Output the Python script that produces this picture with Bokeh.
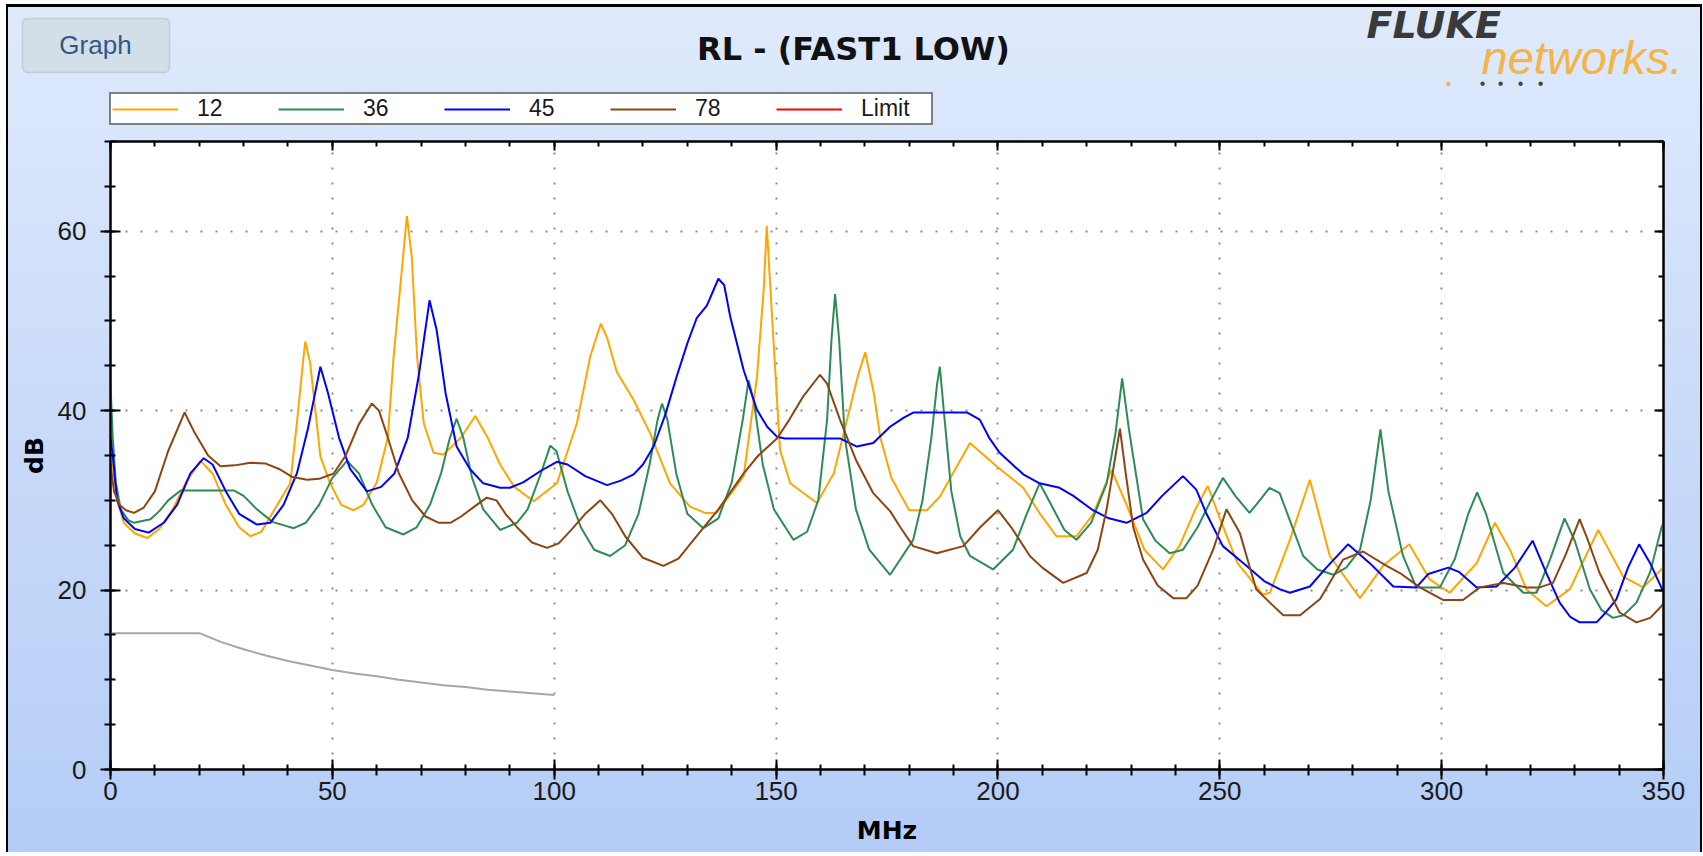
from bokeh.plotting import figure
from bokeh.models import (Range1d, LinearAxis, FixedTicker, Legend, LegendItem,
                          Label, BoxAnnotation)
from bokeh.embed import file_html
from bokeh.resources import INLINE

# ---------------- data ----------------
title_text = "RL - (FAST1 LOW)"
x_label = "MHz"
y_label = "dB"
x_ticks = [0, 50, 100, 150, 200, 250, 300, 350]
x_minor = list(range(0, 351, 10))
y_ticks = [0, 20, 40, 60]
y_minor = list(range(0, 71, 5))
series_names = ["12", "36", "45", "78", "Limit"]

f12 = [0, 1.5, 3, 5.5, 8.3, 11, 14, 17, 20.3, 23, 26, 29, 31.5, 34, 37, 40.5, 42, 43.5, 43.9, 45,
       47.3, 49.5, 52, 54.8, 57, 60, 62.5, 63.8, 65.3, 66.8, 67.9, 69.1, 70.6, 72.8, 75, 79, 82.2,
       85, 87.8, 91, 95.4, 100.6, 105.1, 108.1, 110.5, 112, 114.1, 117.9, 121.6, 126.1, 130.6,
       134, 136.6, 142.7, 145.7, 147.2, 147.9, 149.4, 150.9, 153.2, 159.2, 163, 166, 168.5, 170.1,
       172, 173.5, 176, 180, 184, 186.9, 193.7, 199.7, 205.7, 209.5, 213.2, 217.7, 221.5, 225.6,
       229, 233, 237.2, 241, 244.5, 247.3, 250, 254, 259.7, 261.3, 265.8, 270.3, 274.8, 281.6,
       286.8, 292.7, 297.3, 301.8, 307.9, 312, 315.4, 319.1, 323.6, 328.9, 335.3, 340.9, 345.4,
       349.5, 350]
rl12 = [36, 30, 27.5, 26.3, 25.8, 26.8, 29, 32, 34.4, 33, 29.5, 27, 26.0, 26.5, 29, 31.9, 38.6, 46,
        47.7, 45.3, 34.9, 31.9, 29.5, 28.9, 29.5, 32, 37, 46, 53.8, 61.7, 57.1, 46, 38.6, 35.3, 35.1,
        37, 39.4, 37, 34, 31.5, 29.9, 31.9, 38.6, 46, 49.7, 48, 44.3, 41.2, 37.5, 31.9, 29.3,
        28.6, 28.6, 32.7, 43.8, 53.4, 60.6, 47.9, 35.6, 31.9, 29.7, 33, 39, 44, 46.5,
        42, 37, 32.5, 28.9, 28.9, 30.4, 36.4, 33.8, 31.4, 28.5, 26.0, 26.0, 28.5, 33.4,
        29.5, 24.5, 22.3, 25, 29, 31.6, 28, 23, 19.5, 19.7, 25.6, 32.3, 23.8, 19.1,
        22.7, 25.1, 21.2, 19.7, 23.0, 27.5, 24.5, 20.1, 18.2, 20.1, 26.7, 21.5, 20.3,
        22.3, 22.6]

f36 = [0, 0.5, 1.2, 2.3, 4, 5.3, 9, 11, 13, 15.8, 27.8, 30, 33, 36.5, 41.3, 44, 47, 50, 53.3, 56, 59,
       62, 66, 69, 72, 74.5, 76.5, 78, 79.5, 81.5, 84, 87.8, 91.6, 94, 97, 99.1, 100.5, 103, 106, 109,
       112.6, 116, 119, 121.5, 123.3, 124.3, 125.5, 127.5, 130, 133.6, 137, 140, 142.5, 143.8, 145,
       147, 149.5, 153.9, 157, 159.5, 161.5, 162.5, 163.3, 164.2, 165.5, 168, 171, 175.7, 180.9, 183,
       185, 186.3, 186.9, 187.8, 189.5, 191.5, 193.7, 198.9, 203.4, 206.5, 209.4, 212, 215, 217.7,
       221, 224.5, 226.5, 228, 229.5, 232.7, 235.5, 238.7, 241.7, 245, 248, 250.7, 253.5, 256.7,
       259, 261.2, 263.5, 266, 268.8, 272, 275.6, 278.5, 281.6, 284, 286.2, 288, 291.3, 294.3,
       299.6, 303, 306, 308, 310, 313.9, 318.4, 321.4, 324.5, 327.7, 330, 333.4, 336, 338.6, 341,
       343.9, 347, 349.5, 350]
rl36 = [43, 37, 32, 29, 27.8, 27.5, 27.9, 28.8, 30, 31.1, 31.1, 30.5, 29, 27.6, 26.9, 27.5, 29.5, 32.5,
        34.4, 33, 29.5, 27, 26.2, 27, 29.5, 33, 37, 39.1, 37, 32.5, 29, 26.7, 27.5, 29, 33, 36.1, 35.5,
        31, 27, 24.5, 23.8, 25, 28.5, 34, 39, 40.8, 39, 33, 28.5, 26.9, 28, 32, 39, 43.4, 41, 34, 29,
        25.6, 26.5, 30, 39, 48, 53.0, 48, 37, 29, 24.5, 21.7, 25.6, 30, 37, 43, 44.9, 40, 31, 26, 23.8,
        22.3, 24.5, 28.5, 31.9, 29.5, 26.7, 25.6, 27.5, 31.9, 37.5, 43.6, 38, 27.9, 25.5, 24.1, 24.5,
        27, 30, 32.5, 30.5, 28.6, 30, 31.4, 30.8, 27.5, 23.8, 22.3, 21.7, 22.5, 24.5, 30, 37.9, 31,
        23.8, 20.3, 20.3, 23.5, 28.5, 30.9, 28.5, 21.9, 19.7, 19.7, 23.5, 28, 25.5, 20.1, 17.8, 16.9,
        17.2, 18.6, 22, 26.9, 27.5]

f45 = [0, 0.5, 1.5, 3, 5.5, 8.6, 12, 15, 18, 21, 23, 26, 29, 33, 36, 39, 42, 44.5, 47.3, 49, 51.5, 54,
       57.8, 61, 64, 67, 69.5, 71.9, 73.5, 75.5, 78, 81, 84, 87.8, 90, 93, 97, 100.6, 103, 107, 111.9,
       115, 117.9, 120, 122.4, 125, 127.6, 130, 132.1, 134.4, 137, 138.3, 139.7, 142.7, 145.7, 148,
       150.2, 152, 164.4, 168.2, 171.9, 175.7, 178.7, 181, 193, 195.9, 198, 200.4, 205.7, 209.4,
       213.9, 217, 221.4, 225, 229, 233.5, 237, 241.7, 244.7, 247, 250.7, 256, 260, 263.5, 265.8,
       270.3, 274, 278.9, 283.8, 289.1, 294.3, 297, 301.5, 304, 307.9, 312.4, 316.5, 320.5, 323.5,
       326.6, 329, 331.1, 334.9, 337, 339.4, 342, 344.5, 347, 349.5, 350]
rl45 = [37, 35, 30, 28, 26.8, 26.4, 27.5, 29.5, 33, 34.7, 34, 31, 28.5, 27.3, 27.5, 29.5, 33, 38, 44.9,
        42, 37, 33.5, 31.0, 31.5, 33, 37, 44, 52.3, 49, 42, 36, 33.5, 31.9, 31.4, 31.4, 32, 33.3, 34.3,
        34, 32.7, 31.7, 32.2, 32.9, 34, 36, 39.5, 43.8, 47.5, 50.3, 51.7, 54.7, 54, 50.4, 44.5, 40.1,
        38.2, 37.1, 36.9, 36.9, 36.0, 36.4, 38.2, 39.2, 39.8, 39.8, 39, 37, 35.3, 32.9, 31.9, 31.4,
        30.5, 28.9, 28, 27.5, 28.6, 30.5, 32.7, 31.2, 28.5, 24.9, 22.7, 21, 20.1, 19.7, 20.4, 22.5,
        25.1, 23, 20.4, 20.3, 21.8, 22.5, 22, 20.3, 20.4, 22.5, 25.5, 22, 18.6, 17, 16.4, 16.4, 17.5,
        19, 22.5, 25.1, 23, 20.3, 19.8]

f78 = [0, 0.8, 2, 3.5, 5.3, 7.5, 10, 13, 16.7, 19, 22, 24.8, 28, 31.5, 35, 38, 41, 44.3, 47, 50.3, 53,
       56, 58.9, 60.5, 62.5, 65, 68, 71, 74, 76.6, 79, 82, 84.8, 87, 89, 92, 95, 98.4, 101, 104, 107,
       110.4, 113, 116, 120, 124.6, 128, 132.1, 137, 142.7, 146, 150.2, 153, 156, 159.9, 161.5, 164.4,
       168, 171.9, 175.7, 178, 180.9, 186.2, 192.2, 196, 200, 203, 207.2, 210, 214.7, 220, 222.5,
       224.5, 226.5, 227.5, 228.8, 230.5, 232.7, 236, 239.5, 242.5, 245, 248.5, 251.5, 254.5, 256.5,
       258.2, 261.3, 264.3, 268.1, 272.6, 275, 277.8, 282.3, 287.6, 290.6, 295.1, 300.3, 304.8,
       308.6, 313.9, 319.1, 322.1, 325.1, 328, 331.1, 333, 335.6, 340.1, 343.9, 347, 349.5, 350]
rl78 = [34, 31, 29.5, 28.9, 28.6, 29.2, 31, 35.5, 39.8, 37.5, 35, 33.8, 33.9, 34.2, 34.1, 33.5, 32.6,
        32.3, 32.4, 33.0, 35, 38.5, 40.8, 40, 37, 33, 30, 28.2, 27.5, 27.5, 28.2, 29.3, 30.3, 30, 28.5,
        26.8, 25.3, 24.7, 25.2, 26.8, 28.5, 30.0, 28.5, 26, 23.6, 22.7, 23.5, 26, 29, 33, 35, 36.9, 39,
        41.5, 44.0, 43, 39, 34.5, 30.8, 28.8, 27, 24.9, 24.1, 24.9, 27, 28.9, 27, 23.8, 22.5, 20.8,
        21.9, 24.5, 29, 35, 38.0, 33, 27, 23.4, 20.5, 19.1, 19.1, 20.5, 24.5, 29, 26.4, 23, 20.1, 18.6,
        17.2, 17.2, 19.0, 21, 23.4, 24.3, 22.7, 21.9, 20.3, 18.9, 18.9, 20.3, 20.8, 20.3, 20.3, 20.8,
        24, 27.9, 25.5, 21.9, 17.5, 16.4, 16.9, 18.2, 18.5]

f_limit = [0, 20, 25, 30, 35, 40, 45, 50, 55, 60, 65, 70, 75, 80, 85, 90, 95, 100]
rl_limit = [15.2, 15.2, 14.2, 13.4, 12.7, 12.1, 11.6, 11.1, 10.7, 10.4, 10.0, 9.7, 9.4, 9.2, 8.9,
            8.7, 8.5, 8.3]

series_colors = ["#FFA500", "#2E8B57", "#0000FF", "#8B4513", "#FF0000"]

# ---------------- layout constants ----------------
FONT = "Liberation Sans"
BOLD_FONT = "DejaVu Sans"
W = 1702
HH = 133            # header height
H2 = 719            # chart height
FL, FR, FT, FB = 110, 39, 8, 83   # frame: x 110..1663, y 141..769 (page pixels)
NAN = float("nan")

# ---------------- header (title, button, logo, legend) ----------------
hdr = figure(width=W, height=HH, x_range=Range1d(0, W), y_range=Range1d(HH, 0),
             x_axis_type=None, y_axis_type=None, output_backend="svg", toolbar_location=None,
             min_border=0, outline_line_color=None, background_fill_alpha=0,
             border_fill_alpha=0,
             styles={"background": "linear-gradient(180deg, #dfeafc 0%, #d8e5fb 100%)",
                     "box-shadow": "inset 6px 4px 0 0 #ffffff, inset 8px 7px 0 0 #000000, "
                                   "inset -2px 0 0 0 #000000",
                     "vertical-align": "top"})
hdr.xgrid.visible = False
hdr.ygrid.visible = False

hdr.add_layout(BoxAnnotation(left=22, right=169, top=18, bottom=72, fill_color="#d3dfe8",
                             fill_alpha=1, line_color="#8597a9", line_width=1.5,
                             border_radius=5))
hdr.add_layout(Label(x=95, y=44, text="Graph", text_font=FONT, text_font_size="26px",
                     text_color="#34568c", text_align="center", text_baseline="middle"))
hdr.add_layout(Label(x=853, y=48, text=title_text, text_font=BOLD_FONT, text_font_size="32px",
                     text_font_style="bold", text_color="#111111", text_align="center",
                     text_baseline="middle"))
hdr.add_layout(Label(x=1366, y=24, text="FLUKE", text_font="DejaVu Sans", text_font_size="38px",
                     text_font_style="bold italic", text_color="#3a3a3a", text_align="left",
                     text_baseline="middle"))
hdr.add_layout(Label(x=1481, y=57, text="networks.", text_font=FONT, text_font_size="47px",
                     text_font_style="italic", text_color="#f5b445", text_align="left",
                     text_baseline="middle"))
for dx, col in ((1448, "#f5b445"), (1482, "#444444"), (1500, "#444444"), (1520, "#444444"),
                (1540, "#444444")):
    hdr.add_layout(Label(x=dx, y=83, text="\u2022", text_font=FONT, text_font_size="16px",
                         text_color=col, text_align="center", text_baseline="middle"))

keys = [hdr.line([NAN, NAN], [NAN, NAN], line_color=c, line_width=2) for c in series_colors]
legend = Legend(items=[LegendItem(label=n, renderers=[k]) for n, k in zip(series_names, keys)],
                orientation="horizontal", location=(109, 8), glyph_width=66, glyph_height=20,
                label_standoff=19, label_width=69, spacing=12, padding=1, margin=0,
                border_line_color="black", border_line_width=2, background_fill_color="white",
                background_fill_alpha=1, label_text_font=FONT, label_text_font_size="23px",
                label_text_color="#1a1a1a", label_text_baseline="middle")
hdr.add_layout(legend)

# ---------------- chart ----------------
p = figure(width=W, height=H2, x_range=Range1d(0, 350), y_range=Range1d(0, 70),
           output_backend="svg", toolbar_location=None,
           min_border_left=FL, min_border_right=FR, min_border_top=FT, min_border_bottom=FB,
           background_fill_color="white", border_fill_alpha=0,
           outline_line_color="black", outline_line_width=2,
           styles={"background": "linear-gradient(180deg, #d8e5fb 0%, #b4ccf6 100%)",
                   "box-shadow": "inset 6px 0 0 0 #ffffff, inset 8px 0 0 0 #000000, "
                                 "inset -2px 0 0 0 #000000",
                   "vertical-align": "top"})

for ax in (p.xaxis[0], p.yaxis[0]):
    ax.axis_line_width = 2
    ax.major_tick_line_width = 2
    ax.minor_tick_line_width = 2
    ax.major_tick_out = 10
    ax.major_tick_in = 10
    ax.minor_tick_out = 6
    ax.minor_tick_in = 5
    ax.major_label_text_font = FONT
    ax.major_label_text_font_size = "26px"
    ax.major_label_text_color = "#1a1a1a"
    ax.axis_label_text_font = BOLD_FONT
    ax.axis_label_text_font_size = "25px"
    ax.axis_label_text_font_style = "bold"
    ax.axis_label_text_color = "black"
p.xaxis[0].ticker = FixedTicker(ticks=x_ticks, minor_ticks=x_minor)
p.yaxis[0].ticker = FixedTicker(ticks=y_ticks, minor_ticks=y_minor)
p.xaxis[0].axis_label = x_label
p.yaxis[0].axis_label = y_label
p.xaxis[0].major_label_standoff = 2
p.xaxis[0].axis_label_standoff = 13
p.yaxis[0].major_label_standoff = 14
p.yaxis[0].axis_label_standoff = 6

for place, tk in (("above", FixedTicker(ticks=x_ticks, minor_ticks=x_minor)),
                  ("right", FixedTicker(ticks=y_ticks, minor_ticks=y_minor))):
    ax = LinearAxis(ticker=tk, axis_line_width=2, major_tick_line_width=2,
                    minor_tick_line_width=2, major_tick_in=9, major_tick_out=0,
                    minor_tick_in=5, minor_tick_out=0, major_label_text_font_size="0px",
                    major_label_text_color=None, major_label_standoff=0)
    p.add_layout(ax, place)

p.xgrid.ticker = FixedTicker(ticks=x_ticks)
p.ygrid.ticker = FixedTicker(ticks=y_ticks)
for g in (p.xgrid[0], p.ygrid[0]):
    g.grid_line_color = "#8a8a8a"
    g.grid_line_width = 2
    g.grid_line_dash = "2 13"

p.line(f_limit, rl_limit, line_color="#a6a6a6", line_width=2)
p.line(f12, rl12, line_color=series_colors[0], line_width=2)
p.line(f36, rl36, line_color=series_colors[1], line_width=2)
p.line(f45, rl45, line_color=series_colors[2], line_width=2)
p.line(f78, rl78, line_color=series_colors[3], line_width=2)

open("out.html", "w").write(file_html([hdr, p], INLINE))
